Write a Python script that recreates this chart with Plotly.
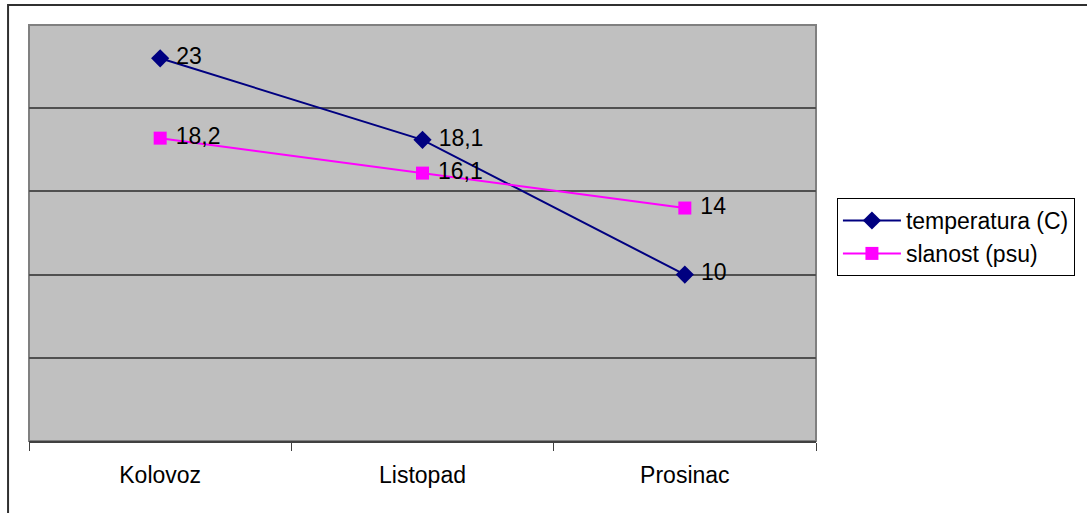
import plotly.graph_objects as go

# Monthly sea measurements
months = ["Kolovoz", "Listopad", "Prosinac"]
temperatura = [23, 18.1, 10]
slanost = [18.2, 16.1, 14]


def fmt(v):
    s = ("%g" % v).replace(".", ",")
    return " " + s


fig = go.Figure()
fig.add_trace(go.Scatter(
    x=months, y=temperatura, name="temperatura (C)",
    mode="lines+markers+text",
    line=dict(color="#000080", width=2),
    marker=dict(symbol="diamond", size=14, color="#000080"),
    text=[fmt(v) for v in temperatura], textposition="middle right",
    textfont=dict(size=23, color="black"),
))
fig.add_trace(go.Scatter(
    x=months, y=slanost, name="slanost (psu)",
    mode="lines+markers+text",
    line=dict(color="#FF00FF", width=2),
    marker=dict(symbol="square", size=13, color="#FF00FF"),
    text=[fmt(v) for v in slanost], textposition="middle right",
    textfont=dict(size=23, color="black"),
))

fig.update_layout(
    width=1087, height=513,
    margin=dict(l=29, r=269, t=25, b=72),
    paper_bgcolor="white", plot_bgcolor="#C0C0C0",
    font=dict(family="Liberation Sans, Arial, sans-serif", size=24, color="black"),
    showlegend=True,
    legend=dict(
        x=1.0266, y=0.584, xanchor="left", yanchor="top",
        bordercolor="black", borderwidth=1, bgcolor="white",
        font=dict(size=23), itemwidth=58, tracegroupgap=0,
    ),
    xaxis=dict(
        range=[-0.5, 2.5],
        showgrid=False, tickson="boundaries", ticks="outside", ticklen=8,
        tickcolor="#404040", showline=True, linecolor="#404040", linewidth=2,
        mirror=False, ticklabelstandoff=12, tickfont=dict(size=23),
    ),
    yaxis=dict(
        range=[0, 25], dtick=5, showticklabels=False, ticks="",
        showgrid=True, gridcolor="#505050", gridwidth=1.5,
        showline=False, zeroline=False,
    ),
    shapes=[
        # plot area frame
        dict(type="rect", xref="paper", yref="paper", x0=0, x1=1, y0=0, y1=1,
             line=dict(color="#808080", width=2), layer="below"),
        # chart frame
        dict(type="rect", xref="paper", yref="paper",
             x0=-21 / 789, x1=1100 / 789 - 29 / 789, y0=-100 / 416, y1=(441 - 5) / 416,
             line=dict(color="#303030", width=2)),
    ],
)

fig.write_html("out.html")
